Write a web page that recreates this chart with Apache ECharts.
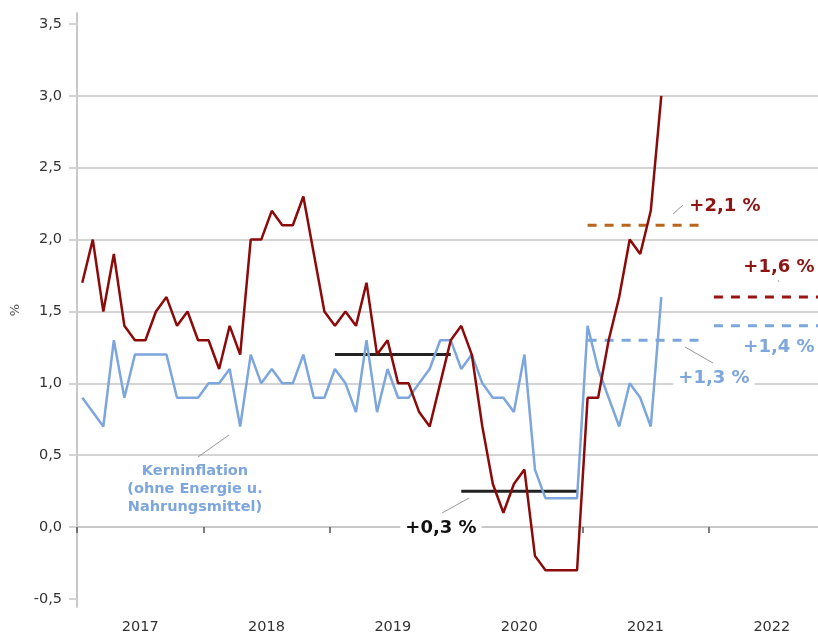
<!DOCTYPE html>
<html>
<head>
<meta charset="utf-8">
<script src="https://cdn.jsdelivr.net/npm/echarts@6/dist/echarts.min.js"></script>
<style>
  html, body { margin: 0; padding: 0; background: #fff; overflow: hidden; }
  /* 2022 wird rechts abgeschnitten: Diagramm breiter als das Fenster */
  #chart { width: 835px; height: 637px; }
</style>
</head>
<body>
<div id="chart"></div>
<script>
  // Jahre auf der x-Achse
  const years = ['2017', '2018', '2019', '2020', '2021', '2022'];
  const yTicks = [-0.5, 0, 0.5, 1, 1.5, 2, 2.5, 3, 3.5];

  // HVPI insgesamt, Jan 2017 - Aug 2021
  const headline = [
    1.7, 2.0, 1.5, 1.9, 1.4, 1.3, 1.3, 1.5, 1.6, 1.4, 1.5, 1.3,
    1.3, 1.1, 1.4, 1.2, 2.0, 2.0, 2.2, 2.1, 2.1, 2.3, 1.9, 1.5,
    1.4, 1.5, 1.4, 1.7, 1.2, 1.3, 1.0, 1.0, 0.8, 0.7, 1.0, 1.3,
    1.4, 1.2, 0.7, 0.3, 0.1, 0.3, 0.4, -0.2, -0.3, -0.3, -0.3, -0.3,
    0.9, 0.9, 1.3, 1.6, 2.0, 1.9, 2.2, 3.0
  ];
  // Kerninflation (ohne Energie u. Nahrungsmittel)
  const core = [
    0.9, 0.8, 0.7, 1.3, 0.9, 1.2, 1.2, 1.2, 1.2, 0.9, 0.9, 0.9,
    1.0, 1.0, 1.1, 0.7, 1.2, 1.0, 1.1, 1.0, 1.0, 1.2, 0.9, 0.9,
    1.1, 1.0, 0.8, 1.3, 0.8, 1.1, 0.9, 0.9, 1.0, 1.1, 1.3, 1.3,
    1.1, 1.2, 1.0, 0.9, 0.9, 0.8, 1.2, 0.4, 0.2, 0.2, 0.2, 0.2,
    1.4, 1.1, 0.9, 0.7, 1.0, 0.9, 0.7, 1.6
  ];

  // Jahresdurchschnitte (schwarz)
  const avgYears = ['2019', '2020'];
  const avgValues = [1.2, 0.25];
  // Prognosen HVPI
  const headlineFcYears = ['2021', '2022'];
  const headlineFcValues = [2.1, 1.6];
  // Prognosen Kerninflation
  const coreFcYears = ['2021', '2022'];
  const coreFcValues = [1.3, 1.4];

  const RED = '#8c0a0a';
  const BLUE = '#7da6dc';
  const FONT = 'DejaVu Sans';

  const months = [];
  years.forEach(y => {
    for (let m = 1; m <= 12; m++) months.push(y + '-' + (m < 10 ? '0' + m : m));
  });

  function yearLine(year, value) {
    const arr = months.map(() => null);
    const start = years.indexOf(year) * 12;
    for (let k = 0; k < 12; k++) arr[start + k] = value;
    return arr;
  }

  function refSeries(year, value, color, dashed, width) {
    return {
      type: 'line',
      xAxisIndex: 1,
      data: yearLine(year, value),
      symbol: 'none',
      silent: true,
      z: 1,
      lineStyle: { color: color, width: width, type: dashed ? [9, 8] : 'solid' }
    };
  }

  const chart = echarts.init(document.getElementById('chart'));

  const series = [];
  avgYears.forEach((y, i) => series.push(refSeries(y, avgValues[i], '#222', false, 3)));
  const fcRedColors = ['#b8661e', '#991414'];
  headlineFcYears.forEach((y, i) => series.push(refSeries(y, headlineFcValues[i], fcRedColors[i], true, 3)));
  coreFcYears.forEach((y, i) => series.push(refSeries(y, coreFcValues[i], BLUE, true, 3)));
  series.push({
    name: 'Kerninflation',
    type: 'line',
    xAxisIndex: 1,
    data: core,
    symbol: 'none',
    z: 3,
    lineStyle: { color: BLUE, width: 2.5 }
  });
  series.push({
    name: 'HVPI',
    type: 'line',
    xAxisIndex: 1,
    data: headline,
    symbol: 'none',
    z: 4,
    lineStyle: { color: RED, width: 2.5 }
  });

  const bold = (txt, color, size) => ({ fill: color, text: txt, font: 'bold ' + size + 'px "' + FONT + '"' });

  const option = {
    animation: false,
    backgroundColor: '#fff',
    textStyle: { fontFamily: FONT },
    grid: { left: 77, right: 0, top: 13, bottom: 30 },
    xAxis: [
      {
        type: 'category',
        data: years,
        boundaryGap: true,
        axisLine: { lineStyle: { color: '#c8c8c8', width: 2 } },
        axisTick: { show: true, interval: 0, length: 6, lineStyle: { color: '#555', width: 1.5 } },
        axisLabel: { color: '#333', fontSize: 14.5, margin: 13, fontFamily: FONT },
        splitLine: { show: false }
      },
      {
        type: 'category',
        data: months,
        boundaryGap: true,
        show: false
      }
    ],
    yAxis: {
      type: 'value',
      min: -0.5556,
      max: 3.576,
      splitNumber: 8,
      minInterval: 0.5,
      maxInterval: 0.5,
      name: '%',
      nameLocation: 'middle',
      nameRotate: 90,
      nameGap: 55,
      nameTextStyle: { color: '#555', fontSize: 13, fontFamily: FONT },
      axisLine: { show: true, lineStyle: { color: '#c8c8c8', width: 2 } },
      axisTick: { show: true, length: 8, customValues: yTicks, lineStyle: { color: '#d4d4d4', width: 2 } },
      axisLabel: {
        color: '#333',
        fontSize: 14.5,
        margin: 15,
        fontFamily: FONT,
        customValues: yTicks,
        formatter: v => v.toFixed(1).replace('.', ',')
      },
      splitLine: { show: true, showMinLine: false, showMaxLine: false, lineStyle: { color: '#d4d4d4', width: 2 } }
    },
    series: series,
    graphic: [
      // Kerninflation Beschriftung
      { type: 'line', z: 50, shape: { x1: 198, y1: 457, x2: 229, y2: 435 }, style: { stroke: '#999', lineWidth: 1 } },
      { type: 'text', z: 50, x: 195, y: 471, style: Object.assign(bold('Kerninflation', BLUE, 14.5), { textAlign: 'center', textVerticalAlign: 'middle' }) },
      { type: 'text', z: 50, x: 195, y: 489, style: Object.assign(bold('(ohne Energie u.', BLUE, 14.5), { textAlign: 'center', textVerticalAlign: 'middle' }) },
      { type: 'text', z: 50, x: 195, y: 507, style: Object.assign(bold('Nahrungsmittel)', BLUE, 14.5), { textAlign: 'center', textVerticalAlign: 'middle' }) },
      // +0,3 %
      { type: 'line', z: 50, shape: { x1: 442, y1: 513, x2: 469, y2: 498 }, style: { stroke: '#999', lineWidth: 1 } },
      { type: 'text', z: 50, x: 441, y: 528, style: Object.assign(bold('+0,3 %', '#111', 18), { textAlign: 'center', textVerticalAlign: 'middle', backgroundColor: '#fff', padding: [0, 5] }) },
      // +2,1 %
      { type: 'line', z: 50, shape: { x1: 673, y1: 214, x2: 683, y2: 205 }, style: { stroke: '#999', lineWidth: 1 } },
      { type: 'text', z: 50, x: 725, y: 206, style: Object.assign(bold('+2,1 %', '#8c1515', 18), { textAlign: 'center', textVerticalAlign: 'middle' }) },
      // +1,6 %
      { type: 'line', z: 50, shape: { x1: 778, y1: 280, x2: 779, y2: 282 }, style: { stroke: '#aaa', lineWidth: 1 } },
      { type: 'text', z: 50, x: 779, y: 267, style: Object.assign(bold('+1,6 %', '#8c1515', 18), { textAlign: 'center', textVerticalAlign: 'middle' }) },
      // +1,4 %
      { type: 'text', z: 50, x: 779, y: 347, style: Object.assign(bold('+1,4 %', BLUE, 18), { textAlign: 'center', textVerticalAlign: 'middle' }) },
      // +1,3 %
      { type: 'line', z: 50, shape: { x1: 685, y1: 347, x2: 713, y2: 363 }, style: { stroke: '#999', lineWidth: 1 } },
      { type: 'text', z: 50, x: 714, y: 378, style: Object.assign(bold('+1,3 %', BLUE, 18), { textAlign: 'center', textVerticalAlign: 'middle', backgroundColor: '#fff', padding: [0, 5] }) }
    ]
  };

  chart.setOption(option);
</script>
</body>
</html>
